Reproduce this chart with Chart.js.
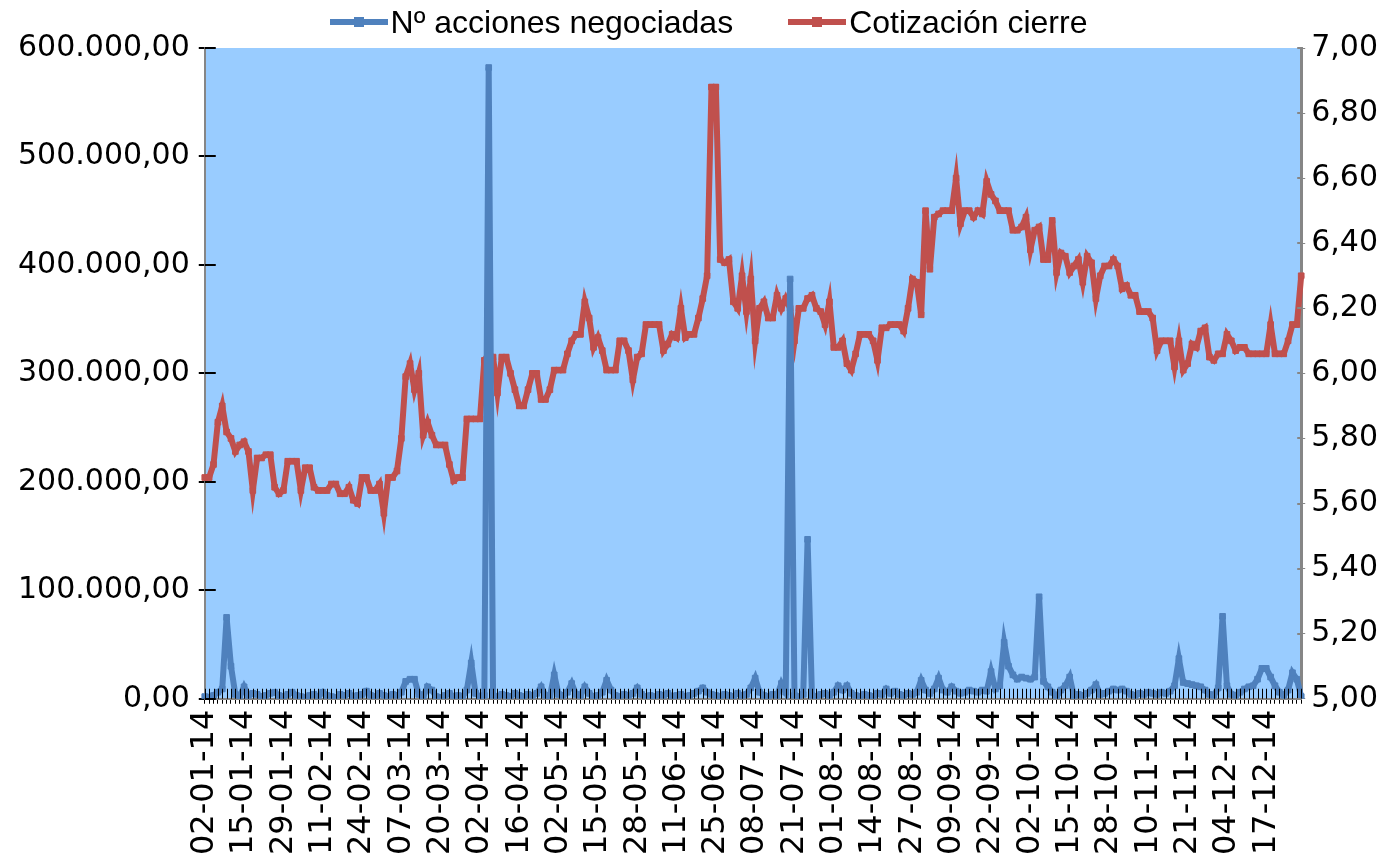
<!DOCTYPE html>
<html>
<head>
<meta charset="utf-8">
<script src="https://cdn.jsdelivr.net/npm/chart.js@4.4.1/dist/chart.umd.min.js"></script>
<style>
  html, body { margin: 0; padding: 0; background: #fff; }
  #wrap { position: relative; width: 1397px; height: 861px; }
  #legend {
    position: absolute; top: 0; left: 0; width: 1397px; height: 44px;
    display: flex; justify-content: center; align-items: center; gap: 55px;
    padding-left: 20px; box-sizing: border-box;
    font: 32px "Liberation Sans", Arial, sans-serif; color: #000;
  }
  .item { display: flex; align-items: center; white-space: nowrap; }
  .swatch { position: relative; width: 58px; height: 6px; margin-right: 3px; }
  .swatch i { position: absolute; left: 24px; top: -2px; width: 10px; height: 10px; background: inherit; }
</style>
</head>
<body>
<div id="wrap">
  <div id="legend"></div>
  <canvas id="myChart" width="1397" height="861"></canvas>
</div>
<script>
// trading days of 2014, one list per month
const daysJan = [2, 3, 6, 7, 8, 9, 10, 13, 14, 15, 16, 17, 20, 21, 22, 23, 27, 28, 29, 30, 31];
const daysFeb = [3, 4, 5, 6, 7, 10, 11, 12, 13, 14, 17, 18, 19, 20, 21, 24, 25, 26, 27, 28];
const daysMar = [3, 4, 5, 6, 7, 10, 11, 12, 13, 14, 17, 18, 19, 20, 21, 24, 25, 26, 27, 28, 31];
const daysApr = [1, 2, 3, 4, 7, 8, 9, 11, 14, 15, 16, 17, 22, 23, 24, 25, 28, 29, 30];
const daysMay = [2, 5, 6, 7, 8, 9, 12, 13, 14, 15, 16, 19, 20, 21, 22, 23, 26, 27, 28, 29, 30];
const daysJun = [2, 3, 5, 6, 9, 10, 11, 12, 13, 16, 17, 18, 20, 23, 24, 25, 26, 27, 30];
const daysJul = [1, 2, 3, 4, 7, 8, 9, 10, 11, 14, 15, 16, 17, 18, 21, 22, 23, 24, 25, 28, 29, 30, 31];
const daysAug = [1, 4, 5, 6, 7, 8, 11, 12, 13, 14, 15, 18, 19, 20, 21, 22, 25, 26, 27, 28, 29];
const daysSep = [1, 2, 3, 4, 5, 8, 9, 10, 11, 12, 15, 16, 17, 18, 19, 22, 23, 24, 25, 26, 27, 29, 30];
const daysOct = [1, 2, 3, 6, 7, 8, 9, 10, 13, 14, 15, 16, 17, 20, 21, 22, 23, 24, 27, 28, 29, 30, 31];
const daysNov = [3, 4, 5, 6, 7, 10, 11, 12, 13, 14, 17, 18, 19, 20, 21, 24, 25, 26, 27, 28];
const daysDec = [1, 2, 3, 4, 5, 8, 9, 10, 11, 12, 15, 16, 17, 18, 19, 22, 23, 24, 29, 30, 31];

// Nº acciones negociadas (left axis)
const volumeData = [
  2000, 1500, 3000, 6000, 9000, 75000, 30000, 4000, 2000, 11000,
  3000, 5000, 4000, 2000, 3000, 5000, 6000, 3000, 2000, 4000,
  6000, 3000, 2000, 1000, 3000, 4000, 2000, 6000, 3000, 2000,
  1000, 4000, 3000, 5000, 2000, 3000, 4000, 7000, 3000, 2000,
  5000, 3000, 2000, 4000, 3000, 6000, 16000, 18000, 18000, 4000,
  2000, 11000, 8000, 2000, 1000, 3000, 5000, 2000, 3000, 2000,
  8000, 33000, 5000, 2000, 3000, 582000, 3000, 2000, 4000, 3000,
  2000, 5000, 3000, 2000, 4000, 3000, 5000, 11000, 3000, 2000,
  22000, 4000, 3000, 6000, 14000, 4000, 3000, 11000, 5000, 2000,
  3000, 6000, 17000, 8000, 3000, 2000, 4000, 3000, 5000, 10000,
  4000, 2000, 3000, 2000, 4000, 3000, 5000, 2000, 3000, 4000,
  2000, 3000, 5000, 7000, 10000, 6000, 4000, 3000, 2000, 4000,
  3000, 2000, 5000, 3000, 4000, 10000, 19000, 6000, 3000, 2000,
  4000, 3000, 14000, 6000, 387000, 3000, 2000, 4000, 147000, 3000,
  2000, 4000, 5000, 3000, 6000, 12000, 8000, 12000, 5000, 3000,
  2000, 4000, 3000, 2000, 5000, 4000, 9000, 5000, 7000, 4000,
  3000, 5000, 4000, 6000, 17000, 8000, 5000, 9000, 19000, 8000,
  6000, 11000, 7000, 5000, 6000, 8000, 7000, 6000, 8000, 7000,
  25000, 9000, 12000, 52000, 30000, 22000, 18000, 20000, 19000, 18000,
  20000, 94000, 16000, 11000, 6000, 2000, 8000, 12000, 20000, 2000,
  4000, 3000, 5000, 8000, 13000, 4000, 5000, 7000, 9000, 8000,
  9000, 7000, 4000, 3000, 5000, 4000, 6000, 5000, 4000, 6000,
  5000, 7000, 12000, 37000, 15000, 14000, 13000, 12000, 11000, 8000,
  4000, 3000, 10000, 76000, 12000, 4000, 3000, 6000, 9000, 11000,
  12000, 18000, 28000, 28000, 20000, 12000, 6000, 3000, 8000, 24000,
  18000, 2000
];

// Cotización cierre (right axis)
const closeData = [
  5.68, 5.68, 5.72, 5.85, 5.90, 5.82, 5.80, 5.76, 5.78, 5.79,
  5.76, 5.64, 5.74, 5.74, 5.75, 5.75, 5.65, 5.63, 5.64, 5.73,
  5.73, 5.73, 5.64, 5.71, 5.71, 5.65, 5.64, 5.64, 5.64, 5.66,
  5.66, 5.63, 5.63, 5.65, 5.61, 5.60, 5.68, 5.68, 5.64, 5.64,
  5.66, 5.57, 5.68, 5.68, 5.70, 5.80, 5.99, 6.03, 5.95, 6.00,
  5.81, 5.85, 5.81, 5.78, 5.78, 5.78, 5.72, 5.67, 5.68, 5.68,
  5.86, 5.86, 5.86, 5.86, 6.04, 6.06, 6.05, 5.94, 6.05, 6.05,
  6.00, 5.95, 5.90, 5.90, 5.95, 6.00, 6.00, 5.92, 5.92, 5.95,
  6.01, 6.01, 6.01, 6.06, 6.10, 6.12, 6.12, 6.22, 6.17, 6.08,
  6.11, 6.07, 6.01, 6.01, 6.01, 6.10, 6.10, 6.07, 5.98, 6.05,
  6.06, 6.15, 6.15, 6.15, 6.15, 6.07, 6.09, 6.12, 6.11, 6.20,
  6.11, 6.12, 6.12, 6.17, 6.23, 6.30, 6.88, 6.88, 6.35, 6.34,
  6.35, 6.22, 6.20, 6.30, 6.19, 6.29, 6.10, 6.20, 6.22, 6.17,
  6.17, 6.24, 6.20, 6.23, 6.20, 6.10, 6.20, 6.20, 6.23, 6.24,
  6.20, 6.19, 6.15, 6.22, 6.08, 6.08, 6.10, 6.03, 6.01, 6.06,
  6.12, 6.12, 6.12, 6.10, 6.04, 6.14, 6.14, 6.15, 6.15, 6.15,
  6.13, 6.20, 6.29, 6.28, 6.18, 6.50, 6.32, 6.48, 6.49, 6.50,
  6.50, 6.50, 6.60, 6.46, 6.50, 6.50, 6.48, 6.50, 6.49, 6.59,
  6.55, 6.53, 6.50, 6.50, 6.50, 6.44, 6.44, 6.45, 6.48, 6.38,
  6.44, 6.45, 6.35, 6.35, 6.47, 6.31, 6.37, 6.36, 6.31, 6.33,
  6.35, 6.28, 6.36, 6.34, 6.23, 6.30, 6.33, 6.33, 6.35, 6.33,
  6.26, 6.27, 6.24, 6.24, 6.19, 6.19, 6.19, 6.17, 6.07, 6.10,
  6.10, 6.10, 6.02, 6.10, 6.01, 6.03, 6.09, 6.08, 6.13, 6.14,
  6.05, 6.04, 6.06, 6.06, 6.12, 6.10, 6.07, 6.08, 6.08, 6.06,
  6.06, 6.06, 6.06, 6.06, 6.15, 6.06, 6.06, 6.06, 6.10, 6.15,
  6.15, 6.30
];

const labelEvery = 9;

const monthLists = [daysJan, daysFeb, daysMar, daysApr, daysMay, daysJun,
  daysJul, daysAug, daysSep, daysOct, daysNov, daysDec];

function pad2(n) {
  return n < 10 ? "0" + n : "" + n;
}

const dateLabels = [];
monthLists.forEach(function (days, m) {
  days.forEach(function (d) {
    dateLabels.push(pad2(d) + "-" + pad2(m + 1) + "-14");
  });
});

// spanish number format: 600.000,00
function fmtEs(v) {
  const parts = Number(v).toFixed(2).split(".");
  parts[0] = parts[0].replace(/\B(?=(\d{3})+(?!\d))/g, ".");
  return parts.join(",");
}

const axisFont = { family: "DejaVu Sans", size: 30 };

// plot background and the tick marks that sit inside the plot
const plotDecor = {
  id: "plotDecor",
  beforeDraw(chart) {
    const a = chart.chartArea;
    const ctx = chart.ctx;
    ctx.save();
    ctx.fillStyle = "#99CCFF";
    ctx.fillRect(a.left, a.top, a.right - a.left, a.bottom - a.top);
    ctx.restore();
  },
  afterDatasetsDraw(chart) {
    const a = chart.chartArea;
    const ctx = chart.ctx;
    const x = chart.scales.x;
    const y = chart.scales.y;
    const y1 = chart.scales.y1;
    ctx.save();
    ctx.strokeStyle = "#000";
    ctx.lineWidth = 1;
    ctx.beginPath();
    for (let i = 0; i < x.ticks.length; i++) {
      const px = Math.round(x.getPixelForTick(i)) + 0.5;
      ctx.moveTo(px, a.bottom);
      ctx.lineTo(px, a.bottom - 10);
    }
    ctx.stroke();
    ctx.lineWidth = 2;
    ctx.beginPath();
    for (let i = 0; i < y.ticks.length; i++) {
      const py = Math.round(y.getPixelForTick(i));
      ctx.moveTo(a.left, py);
      ctx.lineTo(a.left + 11, py);
    }
    ctx.stroke();
    ctx.strokeStyle = "#868686";
    ctx.beginPath();
    for (let i = 0; i < y1.ticks.length; i++) {
      const py = Math.round(y1.getPixelForTick(i));
      ctx.moveTo(a.right, py);
      ctx.lineTo(a.right - 4, py);
    }
    ctx.stroke();
    ctx.restore();
  },
};

const myChart = new Chart(document.getElementById("myChart"), {
  type: "line",
  data: {
    labels: dateLabels,
    datasets: [
      {
        label: "Nº acciones negociadas",
        data: volumeData,
        yAxisID: "y",
        borderColor: "#4F81BD",
        backgroundColor: "#4F81BD",
        borderWidth: 6,
        pointStyle: "rect",
        pointRadius: 4,
        pointBorderWidth: 1,
        tension: 0,
      },
      {
        label: "Cotización cierre",
        data: closeData,
        yAxisID: "y1",
        borderColor: "#C0504D",
        backgroundColor: "#C0504D",
        borderWidth: 6,
        pointStyle: "rect",
        pointRadius: 4,
        pointBorderWidth: 1,
        tension: 0,
      },
    ],
  },
  options: {
    responsive: false,
    animation: false,
    layout: { padding: { top: 48, left: 9, right: 13, bottom: 0 } },
    plugins: {
      legend: { display: false },
      tooltip: { enabled: false },
    },
    scales: {
      x: {
        offset: false,
        grid: { drawOnChartArea: false, tickLength: 5, color: "#000" },
        border: { color: "#868686", width: 2 },
        ticks: {
          autoSkip: false,
          minRotation: 90,
          maxRotation: 90,
          padding: 6,
          color: "#000",
          font: { family: "DejaVu Sans", size: 32 },
          callback: function (val, index) {
            return index % labelEvery === 0 ? this.getLabelForValue(val) : "";
          },
        },
      },
      y: {
        position: "left",
        min: 0,
        max: 600000,
        grid: { drawOnChartArea: false, tickLength: 6, color: "#000", lineWidth: 2 },
        border: { color: "#868686", width: 2 },
        ticks: {
          stepSize: 100000,
          padding: 9,
          color: "#000",
          font: axisFont,
          callback: (v) => fmtEs(v),
        },
      },
      y1: {
        position: "right",
        min: 5,
        max: 7,
        grid: { drawOnChartArea: false, tickLength: 4, color: "#868686" },
        border: { color: "#868686", width: 3 },
        ticks: {
          stepSize: 0.2,
          padding: 6,
          color: "#000",
          font: axisFont,
          callback: (v) => fmtEs(v),
        },
      },
    },
  },
  plugins: [plotDecor],
});

// legend as html, built from the datasets
const legendBox = document.getElementById("legend");
myChart.data.datasets.forEach(function (ds) {
  const item = document.createElement("div");
  item.className = "item";
  const sw = document.createElement("span");
  sw.className = "swatch";
  sw.style.background = ds.borderColor;
  sw.appendChild(document.createElement("i"));
  item.appendChild(sw);
  item.appendChild(document.createTextNode(ds.label));
  legendBox.appendChild(item);
});
</script>
</body>
</html>
